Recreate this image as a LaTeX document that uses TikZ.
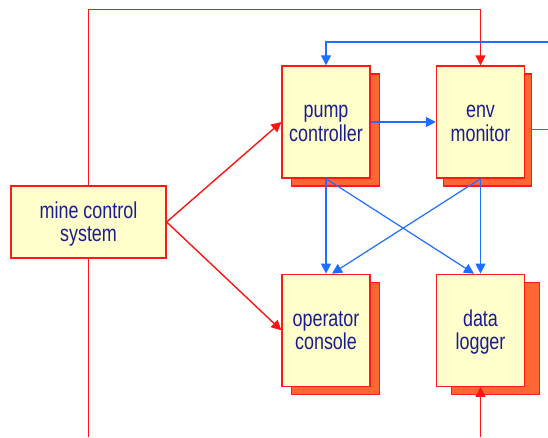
\documentclass[tikz,border=0pt]{standalone}
\usepackage{fontspec}
\setmainfont{Liberation Sans}[FakeStretch=0.78]
\usetikzlibrary{arrows.meta,shadows}

\definecolor{boxfill}{RGB}{255,255,204}
\definecolor{boxshade}{RGB}{255,102,51}
\definecolor{boxedge}{RGB}{255,25,25}
\definecolor{labeltext}{RGB}{28,28,145}
\definecolor{flowblue}{RGB}{30,110,255}
\definecolor{flowred}{RGB}{255,20,20}

% two-line label, set slightly below the box centre
\newcommand{\twoline}[2]{\raisebox{-3pt}[\height][\depth]{\begin{tabular}{@{}c@{}}#1\\#2\end{tabular}}}

\tikzset{
  boxbase/.style={draw=boxedge, line width=1.3pt, fill=boxfill,
    text=labeltext, inner sep=0pt,
    font=\fontsize{23}{23.5}\selectfont},
  unit/.style={boxbase, minimum width=88pt, minimum height=112pt},
  sysbox/.style={boxbase, minimum width=155pt, minimum height=72pt},
  shade/.style={general shadow={shadow xshift=#1, shadow yshift=-8pt,
    fill=boxshade, draw=boxedge, line width=1.3pt}},
  redflow/.style={draw=flowred, line width=1.4pt},
  blueflow/.style={draw=flowblue, line width=1.2pt},
  arrowhd/.style={-{Triangle[length=10pt,width=10pt]}}
}

\begin{document}
\begin{tikzpicture}[x=1pt,y=-1pt]
\useasboundingbox (0,0) rectangle (548,437);

% components
\node[sysbox] (mcs) at (88.5,222) {\twoline{mine control}{system}};
\node[unit, shade=9.5pt] (pump) at (326,122) {\twoline{pump}{controller}};
\node[unit, shade=7pt] (env) at (480.5,122) {\twoline{env}{monitor}};
\node[unit, shade=9.5pt] (console) at (326,330.3) {\twoline{operator}{console}};
\node[unit, shade=15pt] (logger) at (480.5,330.3) {\twoline{data}{logger}};

% off-page ends of connectors
\coordinate (redTop) at (88.5,9.5);
\coordinate (mcsDown) at (88.5,437);
\coordinate (loggerFeed) at (480.5,437);
\coordinate (blueTop) at (548,42);
\coordinate (envOut) at (548,129.5);

% control links (red)
\draw[redflow, arrowhd] (mcs.north) -- (redTop) -| (env.north);
\draw[redflow] (mcs.south) -- (mcsDown);
\draw[redflow, arrowhd] (mcs.east) -- (pump.west);
\draw[redflow, arrowhd] (mcs.east) -- (console.west);
\draw[redflow, arrowhd] (loggerFeed) -- (logger.south);

% data links (blue)
\draw[blueflow, arrowhd] (blueTop) -| (pump.north);
\draw[blueflow, arrowhd] (pump.east) -- (env.west);
\draw[blueflow] ([xshift=7pt,yshift=-7.5pt]env.east) -- (envOut);
\draw[blueflow, arrowhd] (pump.south) -- (console.north);
\draw[blueflow, arrowhd] (pump.south) -- ([xshift=-6.5pt]logger.north);
\draw[blueflow, arrowhd] (env.south) -- (logger.north);
\draw[blueflow, arrowhd] (env.south) -- ([xshift=6pt]console.north);
\end{tikzpicture}
\end{document}
